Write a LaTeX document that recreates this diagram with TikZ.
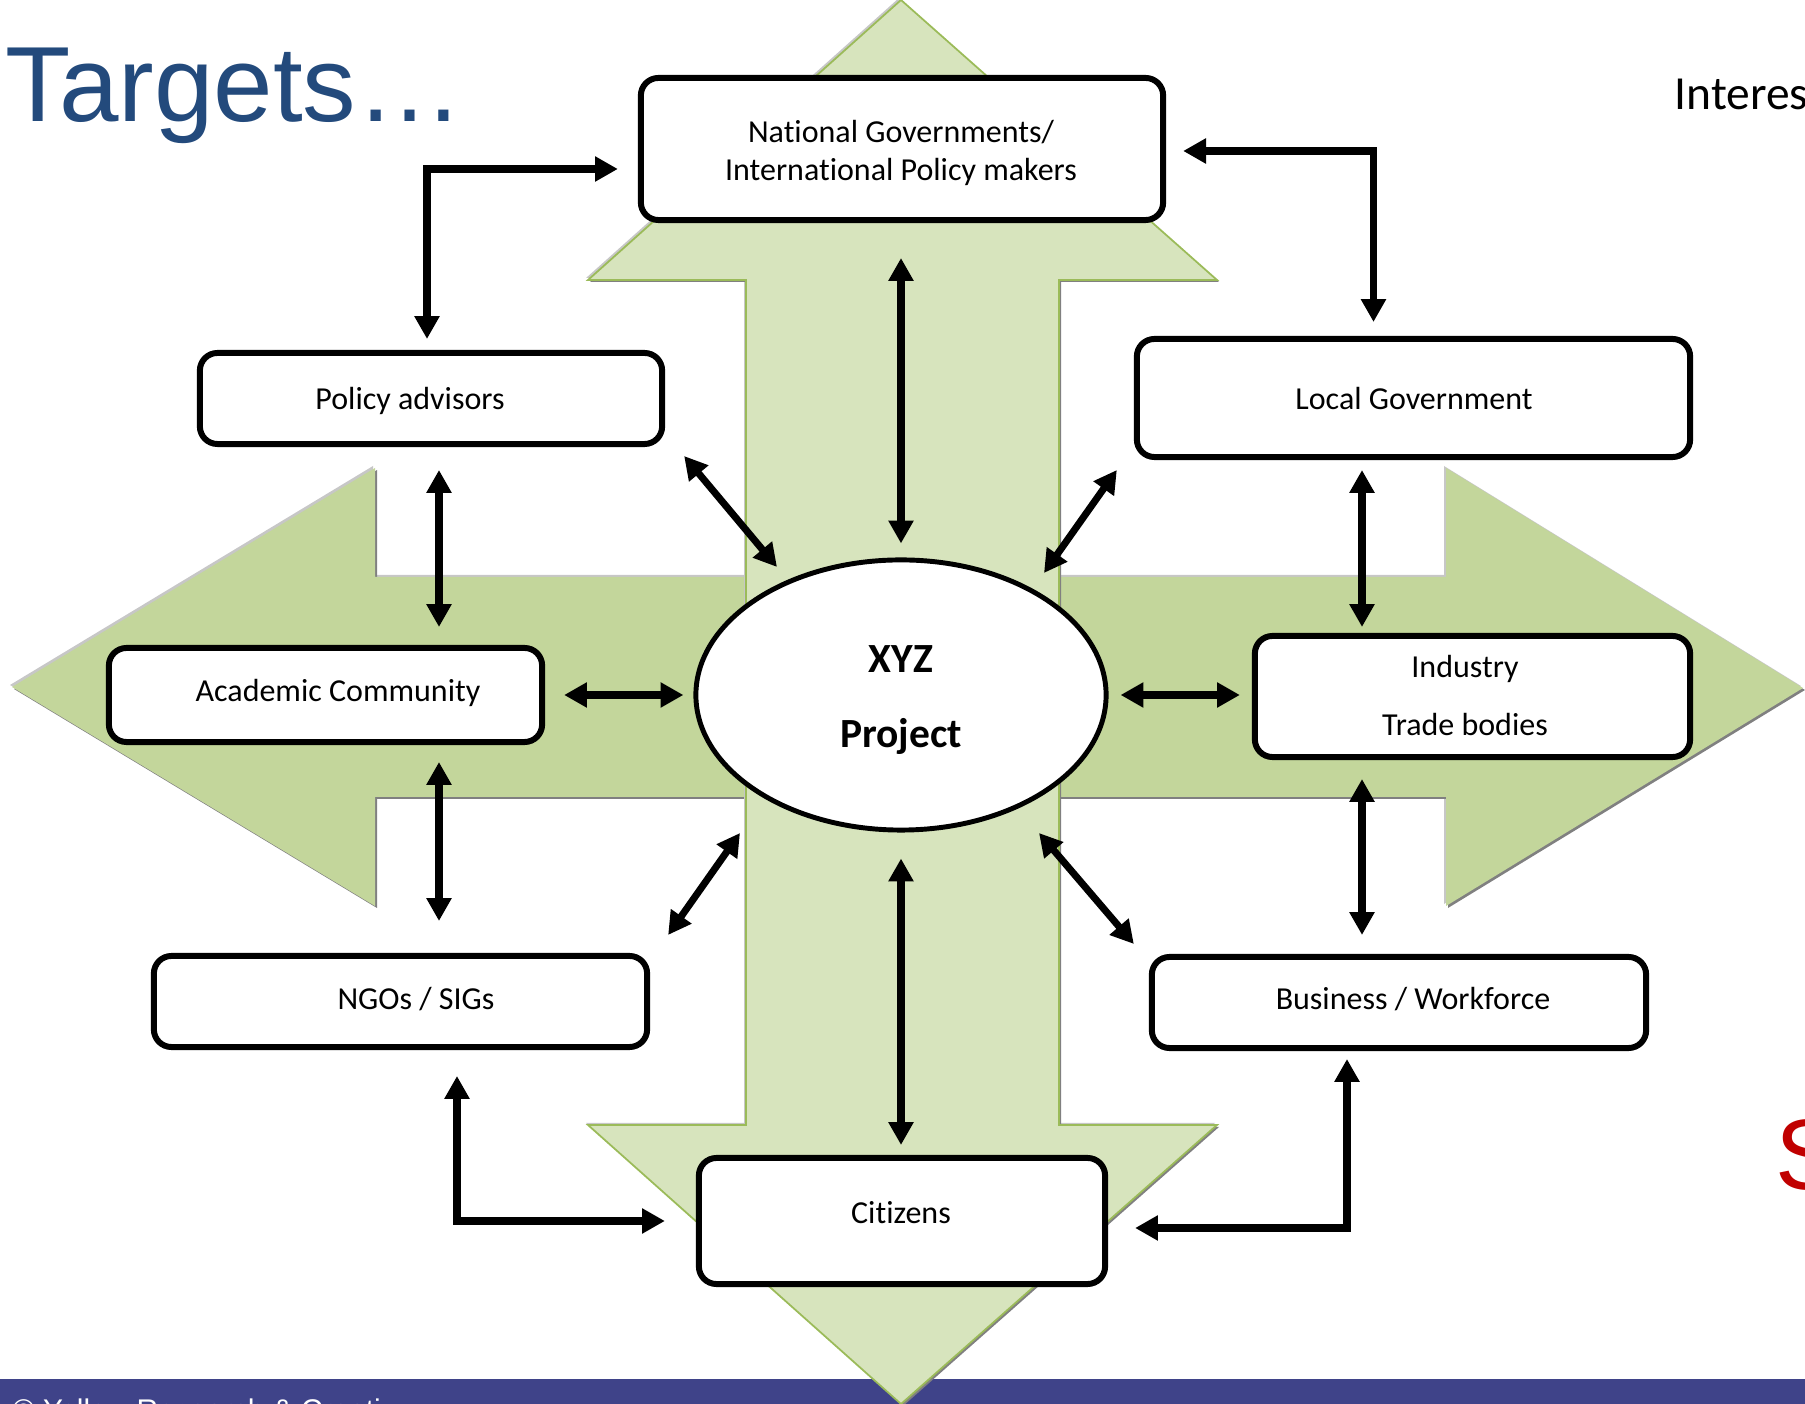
\documentclass[tikz,border=0pt]{standalone}
\usepackage{fontspec}
\setmainfont[Ligatures=NoCommon]{Carlito}
\newfontfamily\arialfont{Liberation Sans}
\usetikzlibrary{arrows.meta,calc,shapes.geometric}

\definecolor{paleGreen}{RGB}{215,228,189}
\definecolor{leafGreen}{RGB}{195,214,155}
\definecolor{edgeGreen}{RGB}{155,187,89}
\definecolor{barBlue}{RGB}{63,67,137}
\definecolor{titleBlue}{RGB}{35,74,124}
\definecolor{accentRed}{RGB}{192,0,0}

% the two crossing block arrows behind the diagram
\newcommand\crossV[1]{\path[#1] (901,0) -- (1217,280) -- (1059,280) -- (1059,1125) -- (1217,1125) -- (901,1404) -- (588,1125) -- (746,1125) -- (746,280) -- (588,280) -- cycle;}
\newcommand\crossH[1]{\path[#1] (12,687) -- (375,468) -- (375,577) -- (1446,577) -- (1446,468) -- (1803,688) -- (1446,906) -- (1446,797) -- (375,797) -- (375,906) -- cycle;}

\begin{document}
\begin{tikzpicture}[x=0.01cm, y=-0.01cm,
  box/.style={draw, line width=1.7pt, rounded corners=5pt, fill=white, inner sep=0pt},
  hub/.style={draw, ellipse, line width=1.4pt, fill=white, inner sep=0pt},
  lbl/.style={font=\fontsize{9.1}{10.8}\selectfont, inner sep=0pt, align=center},
  hublbl/.style={anchor=base, font=\bfseries\fontsize{11.8}{12}\selectfont, inner sep=0pt},
  conn/.style={line width=2pt, >={Triangle[length=6.5pt,width=6.8pt]}, <->}]

\useasboundingbox (0,0) rectangle (1805,1404);
\begin{scope}
\clip (0,0) rectangle (1805,1404);

% footer band
\fill[barBlue] (0,1379) rectangle (1805,1410);
\node[anchor=base west, font=\arialfont\fontsize{8.5}{9}\selectfont, text=white, inner sep=0pt] (footer) at (12,1421) {© Yellow Research \& Creati};

% horizontal block arrow
\crossH{fill=black!22, shift={(-2,-2)}}
\crossH{fill=black!50, shift={(2,2)}}
\crossH{fill=leafGreen}
% vertical block arrow
\crossV{fill=black!22, shift={(-2,-2)}}
\crossV{fill=black!50, shift={(2,2)}}
\crossV{fill=paleGreen, draw=edgeGreen, line width=0.5pt}

% title and side texts
\node[anchor=base west, font=\arialfont\fontsize{30.4}{31}\selectfont, text=titleBlue, inner sep=0pt] (title) at (5,122) {Targets…};
\node[anchor=base west, font=\fontsize{13.5}{14}\selectfont, inner sep=0pt] (side) at (1674,110) {Interested};
\node[anchor=base west, font=\arialfont\fontsize{28.5}{30}\selectfont, text=accentRed, inner sep=0pt] (redS) at (1775,1190) {S};

% central project
\node[hub, minimum width=4.10cm, minimum height=2.70cm] (xyz) at (901,695) {};
\node[hublbl] (t-xyz) at (901,673) {XYZ};
\node[hublbl] (t-proj) at (901,748) {Project};

% target groups
\node[box, minimum width=5.22cm, minimum height=1.42cm] (nat) at (902,149) {};
\node[box, minimum width=4.62cm, minimum height=0.91cm] (pa) at (431,398.5) {};
\node[box, minimum width=5.53cm, minimum height=1.18cm] (lg) at (1413.5,398) {};
\node[box, minimum width=4.33cm, minimum height=0.94cm] (acad) at (325.5,695) {};
\node[box, minimum width=4.35cm, minimum height=1.21cm] (ind) at (1472.5,696.5) {};
\node[box, minimum width=4.93cm, minimum height=0.91cm] (ngo) at (400.5,1001.5) {};
\node[box, minimum width=4.94cm, minimum height=0.91cm] (bus) at (1399,1002.5) {};
\node[box, minimum width=4.06cm, minimum height=1.26cm] (cit) at (902,1221) {};

\node[lbl] (t-nat) at (901,153) {National Governments/\\International Policy makers};
\node[lbl] (t-pa) at (410,401) {Policy advisors};
\node[lbl] (t-lg) at (1414,399) {Local Government};
\node[lbl] (t-acad) at (338,693) {Academic Community};
\node[lbl] (t-ind1) at (1465,669) {Industry};
\node[lbl] (t-ind2) at (1465,725) {Trade bodies};
\node[lbl] (t-ngo) at (416,999) {NGOs / SIGs};
\node[lbl] (t-bus) at (1413,999) {Business / Workforce};
\node[lbl] (t-cit) at (901,1213) {Citizens};

% two-way links
\draw[conn] ($(pa.north)+(-4,-11)$) |- ($(nat.west)+(-20,20)$);
\draw[conn] ($(nat.east)+(17,2)$) -| ($(lg.north)+(-40,-14)$);
\draw[conn] ($(nat.south)+(-1,35)$) -- ($(xyz.north)+(0,-14)$);
\draw[conn] ($(pa.south east)+(19,9)$) -- ($(xyz.center)+(-124,-128)$);
\draw[conn] ($(lg.south west)+(-17,10)$) -- ($(xyz.center)+(143,-122)$);
\draw[conn] ($(pa.south)+(8,23)$) -- ($(acad.north)+(113.5,-18)$);
\draw[conn] ($(lg.south)+(-51.5,10)$) -- ($(ind.north)+(-110.5,-6)$);
\draw[conn] ($(acad.east)+(19,0)$) -- ($(xyz.west)+(-10,0)$);
\draw[conn] ($(xyz.east)+(12,0)$) -- ($(ind.west)+(-12,-1.5)$);
\draw[conn] ($(acad.south)+(113.5,17)$) -- ($(ngo.north)+(38.5,-32)$);
\draw[conn] ($(ind.south)+(-110.5,19)$) -- ($(bus.north)+(-37,-19)$);
\draw[conn] ($(ngo.north east)+(18,-18)$) -- ($(xyz.center)+(-161,138)$);
\draw[conn] ($(bus.north west)+(-15,-10)$) -- ($(xyz.center)+(138,138)$);
\draw[conn] ($(xyz.south)+(0,26)$) -- ($(cit.north)+(-1,-10)$);
\draw[conn] ($(ngo.south)+(56.5,26)$) |- ($(cit.west)+(-31,0)$);
\draw[conn] ($(bus.south)+(-52,8)$) |- ($(cit.east)+(27,7)$);
\end{scope}
\end{tikzpicture}
\end{document}
